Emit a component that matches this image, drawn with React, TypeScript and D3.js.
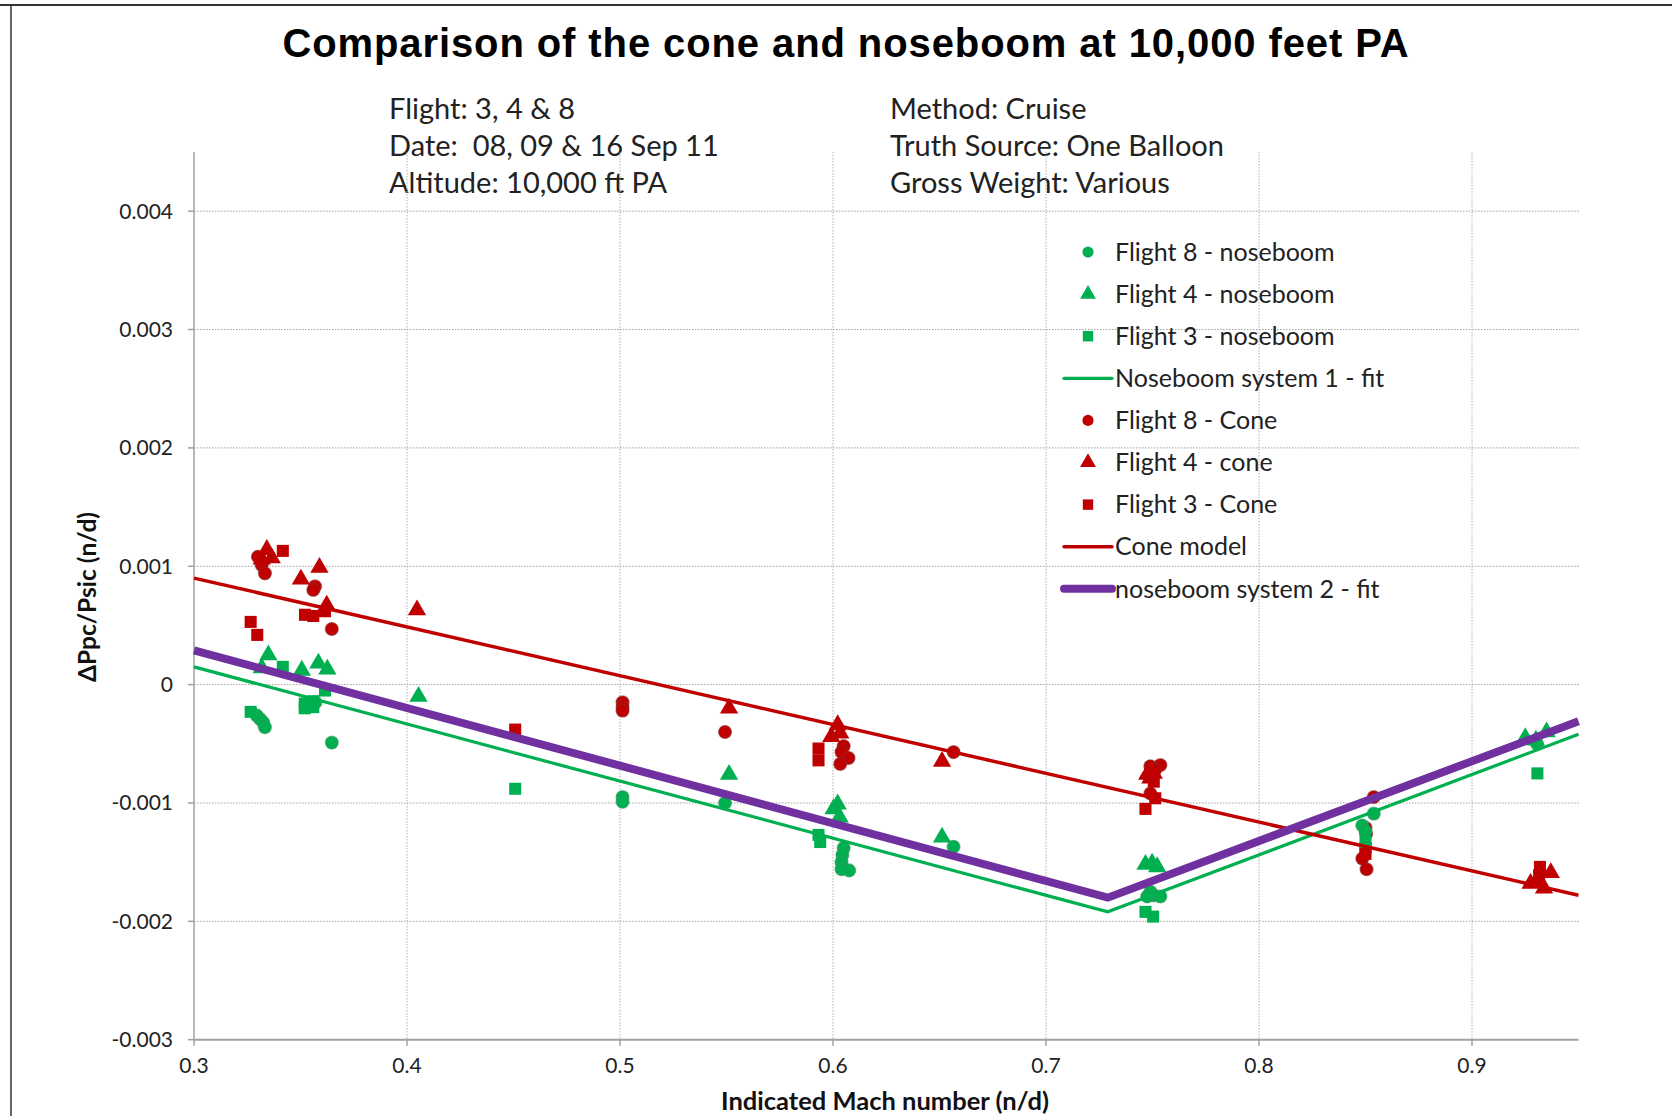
import React from "react";
import * as d3 from "d3";

type P = [number, number];

const xTicks = [0.3, 0.4, 0.5, 0.6, 0.7, 0.8, 0.9];
const yTicks = [0.004, 0.003, 0.002, 0.001, 0, -0.001, -0.002, -0.003];
const yTickLabels = ["0.004", "0.003", "0.002", "0.001", "0", "-0.001", "-0.002", "-0.003"];

const flight8Nose: P[] = [
  [0.3294, -0.00026], [0.331, -0.00029], [0.3325, -0.00032], [0.3333, -0.00036], [0.3647, -0.00049],
  [0.357, -0.00015],
  [0.5012, -0.00095], [0.5012, -0.00099], [0.5493, -0.001],
  [0.605, -0.00138], [0.6044, -0.00144], [0.604, -0.0015], [0.604, -0.00156], [0.6076, -0.00157],
  [0.6566, -0.00137],
  [0.749, -0.00175], [0.7506, -0.00178], [0.7537, -0.00179], [0.7475, -0.00179],
  [0.8539, -0.00109], [0.8485, -0.00119], [0.85, -0.00124],
  [0.9305, -0.0005],
];
const flight4Nose: P[] = [
  [0.3349, 0.00025], [0.3318, 0.00014], [0.3506, 0.00012], [0.3584, 0.00018], [0.3626, 0.00013],
  [0.4054, -0.0001], [0.5512, -0.00076],
  [0.6003, -0.00105], [0.6022, -0.00101], [0.6031, -0.00112],
  [0.6512, -0.00129],
  [0.7467, -0.00152], [0.7498, -0.00151], [0.7522, -0.00154],
  [0.925, -0.00045], [0.93, -0.00047], [0.935, -0.0004],
];
const flight3Nose: P[] = [
  [0.3266, -0.00023], [0.3417, 0.00015], [0.3615, -0.00005], [0.352, -0.00016], [0.352, -0.0002],
  [0.356, -0.00014], [0.356, -0.00019],
  [0.4508, -0.00088],
  [0.5932, -0.00127], [0.594, -0.00133],
  [0.7467, -0.00192], [0.7503, -0.00196],
  [0.85, -0.00133],
  [0.9307, -0.00075],
];
const flight8Cone: P[] = [
  [0.33, 0.00108], [0.3318, 0.00101], [0.3333, 0.00094], [0.3568, 0.00083], [0.356, 0.0008], [0.3647, 0.00047],
  [0.5012, -0.00015], [0.5012, -0.00019], [0.5012, -0.00022],
  [0.5493, -0.0004],
  [0.605, -0.00052], [0.604, -0.00057], [0.6073, -0.00062], [0.6034, -0.00067],
  [0.6566, -0.00057],
  [0.7537, -0.00068], [0.749, -0.00069], [0.7513, -0.00072], [0.749, -0.00092],
  [0.8539, -0.00095], [0.85, -0.00121], [0.8503, -0.00126], [0.8485, -0.00147], [0.8505, -0.00156],
];
const flight4Cone: P[] = [
  [0.3342, 0.00114], [0.3318, 0.00106], [0.3365, 0.00107], [0.3589, 0.00099], [0.3502, 0.00089], [0.3623, 0.00067],
  [0.4047, 0.00063], [0.5512, -0.0002],
  [0.6022, -0.00034], [0.5992, -0.00044], [0.6034, -0.00041],
  [0.6512, -0.00065],
  [0.7475, -0.00076], [0.749, -0.00079], [0.7506, -0.00075],
  [0.9275, -0.00168], [0.937, -0.00159], [0.9338, -0.00172], [0.9307, -0.00166],
];
const flight3Cone: P[] = [
  [0.3417, 0.00113], [0.3521, 0.00059], [0.356, 0.00058], [0.3615, 0.00062], [0.3266, 0.00053], [0.3297, 0.00042],
  [0.4508, -0.00038],
  [0.5932, -0.00054], [0.5932, -0.00064],
  [0.7506, -0.00082], [0.7513, -0.00096], [0.7467, -0.00105],
  [0.85, -0.00138], [0.85, -0.00143],
  [0.9319, -0.00154], [0.9315, -0.00161],
];
const coneModel: P[] = [[0.3, 0.0009], [0.95, -0.00178]];
const noseFit1: P[] = [[0.3, 0.00015], [0.729, -0.00192], [0.95, -0.00042]];
const noseFit2: P[] = [[0.3, 0.00029], [0.729, -0.0018], [0.95, -0.00031]];

const infoLeft = ["Flight: 3, 4 & 8", "Date:  08, 09 & 16 Sep 11", "Altitude: 10,000 ft PA"];
const infoRight = ["Method: Cruise", "Truth Source: One Balloon", "Gross Weight: Various"];

const GREEN = "#00b050";
const RED = "#c00000";
const PURPLE = "#7030a0";

const legendItems = [
  { label: "Flight 8 - noseboom", kind: "circle", color: GREEN },
  { label: "Flight 4 - noseboom", kind: "triangle", color: GREEN },
  { label: "Flight 3 - noseboom", kind: "square", color: GREEN },
  { label: "Noseboom system 1 - fit", kind: "line", color: GREEN, w: 3.2 },
  { label: "Flight 8 - Cone", kind: "circle", color: RED },
  { label: "Flight 4 - cone", kind: "triangle", color: RED },
  { label: "Flight 3 - Cone", kind: "square", color: RED },
  { label: "Cone model", kind: "line", color: RED, w: 3.5 },
  { label: "noseboom system 2 - fit", kind: "line", color: PURPLE, w: 8 },
];

const symPath = (kind: string, scale = 1) => {
  const t = kind === "circle" ? d3.symbolCircle : kind === "triangle" ? d3.symbolTriangle : d3.symbolSquare;
  const size = kind === "circle" ? 130 : kind === "triangle" ? 145 : 145;
  return d3.symbol().type(t).size(size * scale)() as string;
};

export default function App() {
  const x = d3.scaleLinear().domain([0.3, 0.95]).range([194, 1578.5]);
  const y = d3.scaleLinear().domain([-0.003, 0.0045]).range([1039.7, 152]);
  const line = d3.line<P>().x((d) => x(d[0])).y((d) => y(d[1]));
  const bodyFont = "Lato, 'Open Sans', sans-serif";

  const markers = (data: P[], kind: string, color: string, key: string) =>
    data.map((d, i) => (
      <path
        key={key + i}
        d={symPath(kind)}
        transform={`translate(${x(d[0])},${y(d[1])})`}
        fill={color}
        stroke={kind === "circle" ? (color === RED ? "#8a2a2a" : "#2f9a5a") : "none"}
        strokeOpacity={0.6}
        strokeWidth={1.3}
      />
    ));

  return (
    <svg width={1672} height={1116} style={{ position: "absolute", left: 0, top: 0, background: "#fff" }}>
      <rect x={0} y={0} width={1672} height={1116} fill="#fff" />
      <line x1={0} x2={1672} y1={5} y2={5} stroke="#333" strokeWidth={2} />
      <line x1={11} x2={11} y1={5} y2={1116} stroke="#333" strokeWidth={1.5} />

      <text x={846} y={57} textAnchor="middle" fontFamily="'Liberation Sans', Arial, sans-serif" fontWeight="bold" fontSize={40} letterSpacing={0.9} fill="#000">
        Comparison of the cone and noseboom at 10,000 feet PA
      </text>

      {infoLeft.map((t, i) => (
        <text key={"il" + i} x={389} y={109 + i * 37} dy="0.35em" fontFamily={bodyFont} fontSize={29} fill="#222" style={{ whiteSpace: "pre" }}>
          {t}
        </text>
      ))}
      {infoRight.map((t, i) => (
        <text key={"ir" + i} x={890} y={109 + i * 37} dy="0.35em" fontFamily={bodyFont} fontSize={29} fill="#222">
          {t}
        </text>
      ))}

      {/* gridlines */}
      {yTicks.filter((v) => v > -0.003).map((v) => (
        <line key={"gy" + v} x1={x(0.3)} x2={x(0.95)} y1={y(v)} y2={y(v)} stroke="#a0a0a0" strokeWidth={1} strokeDasharray="1.5 1.5" />
      ))}
      {xTicks.filter((v) => v > 0.3).map((v) => (
        <line key={"gx" + v} x1={x(v)} x2={x(v)} y1={y(0.0045)} y2={y(-0.003)} stroke="#b0b0b0" strokeWidth={1} strokeDasharray="1.5 1.5" />
      ))}
      {/* axes */}
      <line x1={x(0.3)} x2={x(0.3)} y1={y(0.0045)} y2={y(-0.003)} stroke="#a0a0a0" strokeWidth={1.5} />
      <line x1={x(0.3)} x2={x(0.95)} y1={y(-0.003)} y2={y(-0.003)} stroke="#a0a0a0" strokeWidth={2} />
      {yTicks.map((v) => (
        <line key={"ty" + v} x1={x(0.3) - 6} x2={x(0.3)} y1={y(v)} y2={y(v)} stroke="#a0a0a0" strokeWidth={1.5} />
      ))}
      {xTicks.map((v) => (
        <line key={"tx" + v} x1={x(v)} x2={x(v)} y1={y(-0.003)} y2={y(-0.003) + 6} stroke="#a0a0a0" strokeWidth={1.5} />
      ))}
      {yTicks.map((v, i) => (
        <text key={"ly" + v} x={x(0.3) - 21} y={y(v)} dy="0.35em" textAnchor="end" fontFamily={bodyFont} fontSize={21} fill="#222">
          {yTickLabels[i]}
        </text>
      ))}
      {xTicks.map((v) => (
        <text key={"lx" + v} x={x(v)} y={1066} dy="0.35em" textAnchor="middle" fontFamily={bodyFont} fontSize={21} fill="#222">
          {d3.format(".1f")(v)}
        </text>
      ))}
      <text x={885} y={1101} dy="0.35em" textAnchor="middle" fontFamily={bodyFont} fontWeight="bold" fontSize={25.5} fill="#111">
        Indicated Mach number (n/d)
      </text>
      <text transform="translate(87,597) rotate(-90)" dy="0.35em" textAnchor="middle" fontFamily={bodyFont} fontWeight="bold" fontSize={24.5} fill="#111">
        ΔPpc/Psic (n/d)
      </text>

      {/* points */}
      {markers(flight8Cone, "circle", RED, "c8")}
      {markers(flight4Cone, "triangle", RED, "c4")}
      {markers(flight3Cone, "square", RED, "c3")}
      {markers(flight8Nose, "circle", GREEN, "n8")}
      {markers(flight4Nose, "triangle", GREEN, "n4")}
      {markers(flight3Nose, "square", GREEN, "n3")}

      {/* fit lines */}
      <path d={line(noseFit1) as string} fill="none" stroke={GREEN} strokeWidth={3.2} />
      <path d={line(coneModel) as string} fill="none" stroke={RED} strokeWidth={3.5} />
      <path d={line(noseFit2) as string} fill="none" stroke={PURPLE} strokeWidth={8} />

      {/* legend */}
      {legendItems.map((it, i) => {
        const cy = 252 + i * 42.1;
        return (
          <g key={"lg" + i}>
            {it.kind === "line" ? (
              <line x1={1064} x2={1112} y1={cy} y2={cy} stroke={it.color} strokeWidth={it.w} strokeLinecap="round" />
            ) : (
              <path d={symPath(it.kind, 0.75)} transform={`translate(1088,${cy})`} fill={it.color} />
            )}
            <text x={1115} y={cy} dy="0.35em" fontFamily={bodyFont} fontSize={25} fill="#222">
              {it.label}
            </text>
          </g>
        );
      })}
    </svg>
  );
}
